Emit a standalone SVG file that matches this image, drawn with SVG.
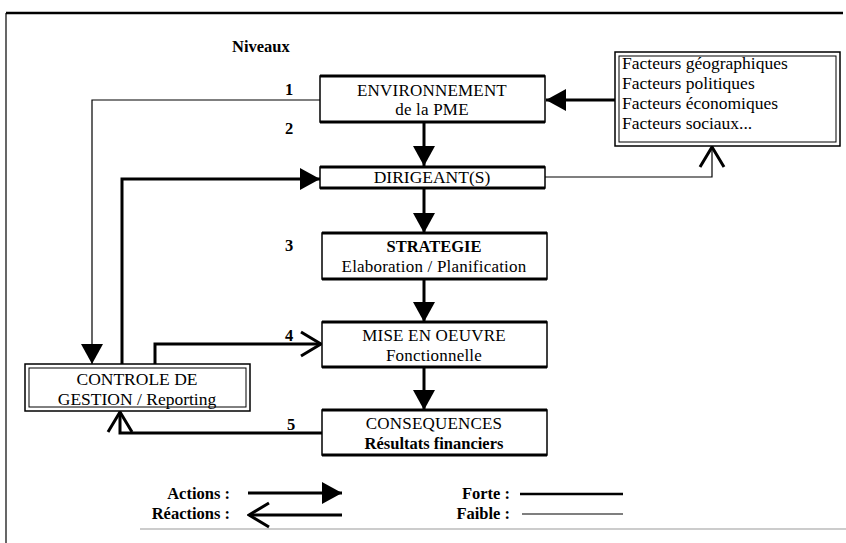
<svg xmlns="http://www.w3.org/2000/svg" width="846" height="543" viewBox="0 0 846 543">
<style>
text{font-family:"Liberation Serif","Times New Roman",serif;font-size:17.5px;fill:#000}
.b{font-weight:bold}
.s{font-size:16.5px}
.m{font-size:17px;letter-spacing:0.2px}
.c{text-anchor:middle}
.r{text-anchor:end}
.box{fill:#fff;stroke:#000;stroke-width:1.5}
.edge{stroke:#000;stroke-width:3}
.strong{fill:none;stroke:#000;stroke-width:3}
.weak{fill:none;stroke:#000;stroke-width:1.2}
</style>
<defs>
<marker id="fill" markerUnits="userSpaceOnUse" viewBox="0 0 20 22" refX="20" refY="11" markerWidth="20" markerHeight="22" orient="auto">
<path d="M0,0 L20,11 L0,22 Z" fill="#000"/>
</marker>
<marker id="open" markerUnits="userSpaceOnUse" viewBox="-2 -2 24 28" refX="20" refY="12" markerWidth="24" markerHeight="28" orient="auto">
<path d="M0,0 L20,12 L0,24" fill="none" stroke="#000" stroke-width="3"/>
</marker>
</defs>
<rect width="846" height="543" fill="#fff"/>
<g id="frame">
<line x1="6" y1="13" x2="843" y2="13" stroke="#000" stroke-width="2.5"/>
<line x1="6" y1="13" x2="6" y2="543" stroke="#000" stroke-width="1.2"/>
<line x1="140" y1="529" x2="846" y2="529" stroke="#999" stroke-width="1.2"/>
</g>
<g id="labels">
<text class="b s" x="232" y="52">Niveaux</text>
<text class="b s" x="285" y="95">1</text>
<text class="b s" x="285" y="134">2</text>
<text class="b s" x="285" y="251">3</text>
<text class="b s" x="285" y="341">4</text>
<text class="b s" x="287" y="430">5</text>
</g>
<g id="connectors">
<line class="strong" x1="424" y1="122" x2="424" y2="166" marker-end="url(#fill)"/>
<line class="strong" x1="424" y1="188" x2="424" y2="233" marker-end="url(#fill)"/>
<line class="strong" x1="424" y1="279" x2="424" y2="322" marker-end="url(#fill)"/>
<line class="strong" x1="424" y1="367" x2="424" y2="410" marker-end="url(#fill)"/>
<line class="strong" x1="615" y1="100" x2="546" y2="100" marker-end="url(#fill)"/>
<polyline class="weak" points="545,177 712,177 712,147" marker-end="url(#open)"/>
<polyline class="weak" points="320,100 92,100 92,364" marker-end="url(#fill)"/>
<polyline class="strong" points="122,364 122,179 320,179" marker-end="url(#fill)"/>
<polyline class="strong" points="155,364 155,344 321,344" marker-end="url(#open)"/>
<polyline class="strong" points="322,433 120,433 120,412" marker-end="url(#open)"/>
</g>
<g id="env">
<rect class="box" x="320" y="76" width="225" height="46"/>
<line class="edge" x1="320" y1="76" x2="545" y2="76"/>
<line class="edge" x1="320" y1="122" x2="545" y2="122"/>
<text class="c m" x="432" y="96">ENVIRONNEMENT</text>
<text class="c m" x="432" y="115">de la PME</text>
</g>
<g id="dirigeant">
<rect class="box" x="320" y="167" width="225" height="21"/>
<line class="edge" x1="320" y1="167" x2="545" y2="167"/>
<line class="edge" x1="320" y1="188" x2="545" y2="188"/>
<text class="c" x="432" y="183">DIRIGEANT(S)</text>
</g>
<g id="facteurs">
<rect class="box" x="615" y="52" width="225" height="94"/>
<rect fill="none" stroke="#000" stroke-width="1" x="619" y="56" width="217" height="86"/>
<text x="622" y="69">Facteurs géographiques</text>
<text x="622" y="89">Facteurs politiques</text>
<text x="622" y="109">Facteurs économiques</text>
<text x="622" y="129">Facteurs sociaux...</text>
</g>
<g id="strategie">
<rect class="box" x="322" y="233" width="225" height="46"/>
<line class="edge" x1="322" y1="233" x2="547" y2="233"/>
<line class="edge" x1="322" y1="279" x2="547" y2="279"/>
<text class="c b s" x="434" y="252">STRATEGIE</text>
<text class="c m" x="434" y="272">Elaboration / Planification</text>
</g>
<g id="mise">
<rect class="box" x="322" y="322" width="225" height="45"/>
<line class="edge" x1="322" y1="322" x2="547" y2="322"/>
<line class="edge" x1="322" y1="367" x2="547" y2="367"/>
<text class="c m" x="434" y="341">MISE EN OEUVRE</text>
<text class="c m" x="434" y="361">Fonctionnelle</text>
</g>
<g id="consequences">
<rect class="box" x="322" y="410" width="225" height="45"/>
<line class="edge" x1="322" y1="410" x2="547" y2="410"/>
<line class="edge" x1="322" y1="455" x2="547" y2="455"/>
<text class="c m" x="434" y="429">CONSEQUENCES</text>
<text class="c b s" x="434" y="449">Résultats financiers</text>
</g>
<g id="controle">
<rect class="box" x="25" y="364" width="225" height="47"/>
<rect fill="none" stroke="#000" stroke-width="1" x="29" y="368" width="217" height="39"/>
<text class="c" x="137" y="385">CONTROLE DE</text>
<text class="c" x="137" y="405">GESTION / Reporting</text>
</g>
<g id="legend">
<text class="b r s" x="230" y="499">Actions :</text>
<text class="b r s" x="230" y="519">Réactions :</text>
<line class="strong" x1="248" y1="493" x2="342" y2="493" marker-end="url(#fill)"/>
<line class="strong" x1="342" y1="515" x2="249" y2="515" marker-end="url(#open)"/>
<text class="b r s" x="510" y="499">Forte :</text>
<text class="b r s" x="510" y="519">Faible :</text>
<line x1="520" y1="494" x2="623" y2="494" stroke="#000" stroke-width="2.5"/>
<line x1="522" y1="514" x2="623" y2="514" stroke="#000" stroke-width="1.2"/>
</g>
</svg>
